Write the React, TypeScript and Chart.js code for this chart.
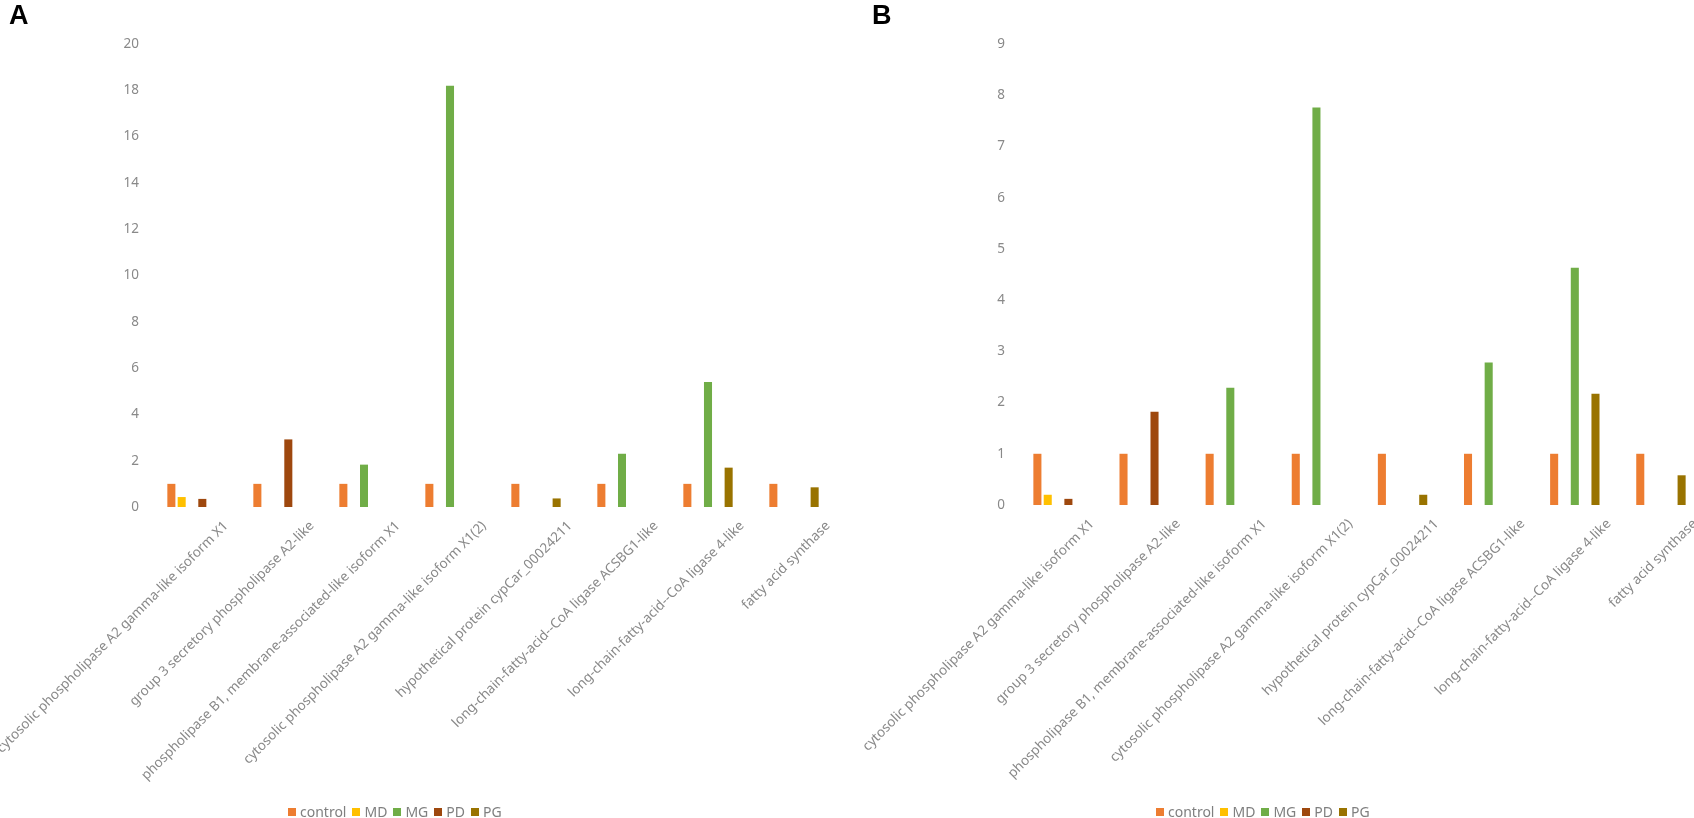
import { useEffect, useRef } from "react"
import { Chart, registerables } from "chart.js"

Chart.register(...registerables)

const categories = [
  "cytosolic phospholipase A2 gamma-like isoform X1",
  "group 3 secretory phospholipase A2-like",
  "phospholipase B1, membrane-associated-like isoform X1",
  "cytosolic phospholipase A2 gamma-like isoform X1(2)",
  "hypothetical protein cypCar_00024211",
  "long-chain-fatty-acid--CoA ligase ACSBG1-like",
  "long-chain-fatty-acid--CoA ligase 4-like",
  "fatty acid synthase",
]

const seriesNames = ["control", "MD", "MG", "PD", "PG"]
const seriesColors = ["#ED7D31", "#FFC000", "#70AD47", "#9E480E", "#997300"]

// panel A
const controlA = [1, 1, 1, 1, 1, 1, 1, 1]
const mdA = [0.43, 0, 0, 0, 0, 0, 0, 0]
const mgA = [0, 0, 1.83, 18.2, 0, 2.3, 5.4, 0]
const pdA = [0.35, 2.92, 0, 0, 0, 0, 0, 0]
const pgA = [0, 0, 0, 0, 0.37, 0, 1.7, 0.85]
const yTicksA = [0, 2, 4, 6, 8, 10, 12, 14, 16, 18, 20]

// panel B
const controlB = [1, 1, 1, 1, 1, 1, 1, 1]
const mdB = [0.2, 0, 0, 0, 0, 0, 0, 0]
const mgB = [0, 0, 2.29, 7.76, 0, 2.78, 4.63, 0]
const pdB = [0.12, 1.82, 0, 0, 0, 0, 0, 0]
const pgB = [0, 0, 0, 0, 0.2, 0, 2.17, 0.58]
const yTicksB = [0, 1, 2, 3, 4, 5, 6, 7, 8, 9]

const textColor = "#898989"
const fontFamily = "'Noto Sans', 'DejaVu Sans', sans-serif"

interface PanelProps {
  values: number[][]
  yTicks: number[]
  left: number
  width: number
  yAxisWidth: number
  rightPad: number
  zeroY: number
  topY: number
}

function BarPanel({ values, yTicks, left, width, yAxisWidth, rightPad, zeroY, topY }: PanelProps) {
  const chartRef = useRef<HTMLCanvasElement>(null)
  const chartInstance = useRef<Chart | null>(null)

  useEffect(() => {
    if (!chartRef.current) return
    if (chartInstance.current) chartInstance.current.destroy()
    const ctx = chartRef.current.getContext("2d")
    if (!ctx) return

    const step = yTicks[1] - yTicks[0]
    const max = yTicks[yTicks.length - 1]

    chartInstance.current = new Chart(ctx, {
      type: "bar",
      data: {
        labels: categories,
        datasets: seriesNames.map((name, i) => ({
          label: name,
          data: values[i],
          backgroundColor: seriesColors[i],
          borderWidth: 0,
          categoryPercentage: 0.6,
          barPercentage: 0.78,
        })),
      },
      options: {
        responsive: false,
        animation: false,
        layout: {
          padding: { left: 0, top: topY, right: rightPad, bottom: 0 },
        },
        plugins: {
          legend: { display: false },
          tooltip: { enabled: false },
        },
        scales: {
          x: {
            grid: { display: false, drawTicks: false },
            border: { display: false },
            ticks: {
              autoSkip: false,
              minRotation: 45,
              maxRotation: 45,
              labelOffset: 34,
              padding: 11,
              color: textColor,
              font: { family: fontFamily, size: 13.5 },
            },
            afterFit: (scale: any) => {
              scale.height = 818 - zeroY
              scale.paddingLeft = 0
              scale.paddingRight = 0
            },
          },
          y: {
            min: 0,
            max,
            grid: { display: false, drawTicks: false },
            border: { display: false },
            ticks: {
              stepSize: step,
              padding: 10,
              color: textColor,
              font: { family: fontFamily, size: 13.5 },
            },
            afterFit: (scale: any) => {
              scale.width = yAxisWidth
            },
          },
        },
      },
    })

    return () => {
      if (chartInstance.current) {
        chartInstance.current.destroy()
        chartInstance.current = null
      }
    }
  }, [values, yTicks])

  return (
    <canvas
      ref={chartRef}
      width={width}
      height={818}
      style={{ position: "absolute", left, top: 0, width, height: 818 }}
    />
  )
}

function Legend({ left }: { left: number }) {
  return (
    <div
      style={{
        position: "absolute",
        left,
        top: 802,
        display: "flex",
        alignItems: "center",
        fontFamily,
        fontSize: 14,
        color: "#7f7f7f",
        whiteSpace: "nowrap",
      }}
    >
      {seriesNames.map((name, i) => (
        <span key={name} style={{ display: "flex", alignItems: "center", marginRight: 6 }}>
          <span style={{ width: 8, height: 8, background: seriesColors[i], marginRight: 4 }} />
          {name}
        </span>
      ))}
    </div>
  )
}

export default function App() {
  return (
    <div
      style={{
        position: "fixed",
        left: 0,
        top: 0,
        width: 1694,
        height: 818,
        overflow: "hidden",
        background: "#fff",
      }}
    >
      <BarPanel
        values={[controlA, mdA, mgA, pdA, pgA]}
        yTicks={yTicksA}
        left={0}
        width={850}
        yAxisWidth={149}
        rightPad={13}
        zeroY={507}
        topY={44}
      />
      <BarPanel
        values={[controlB, mdB, mgB, pdB, pgB]}
        yTicks={yTicksB}
        left={830}
        width={880}
        yAxisWidth={185}
        rightPad={6}
        zeroY={505}
        topY={44}
      />
      <Legend left={288} />
      <Legend left={1156} />
      <div style={{ position: "absolute", left: 9, top: 0, font: "bold 27px 'Liberation Sans', Arial, sans-serif", color: "#000" }}>A</div>
      <div style={{ position: "absolute", left: 872, top: 0, font: "bold 27px 'Liberation Sans', Arial, sans-serif", color: "#000" }}>B</div>
    </div>
  )
}
